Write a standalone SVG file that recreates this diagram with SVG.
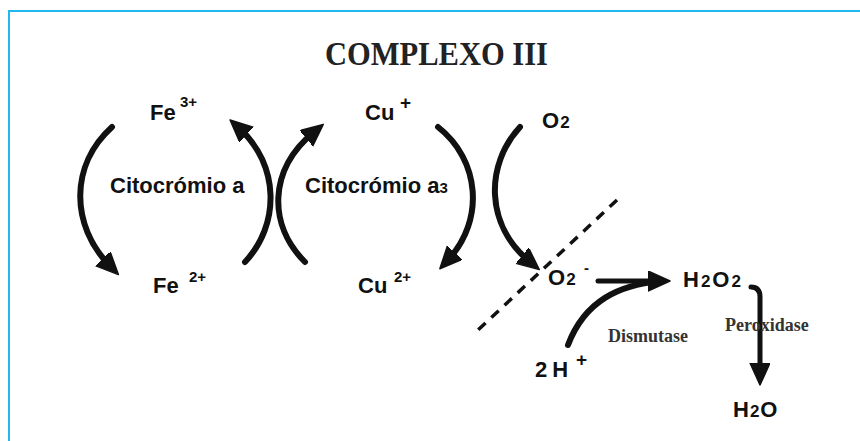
<svg xmlns="http://www.w3.org/2000/svg" width="860" height="441" viewBox="0 0 860 441">
<defs>
<marker id="ah" markerUnits="userSpaceOnUse" markerWidth="24" markerHeight="22" refX="10" refY="10" orient="auto" viewBox="0 0 24 22">
<path d="M0,0 L22,10 L0,20 z" fill="#111" stroke="#111" stroke-width="1.5" stroke-linejoin="round"/>
</marker>
</defs>
<style>
.lbl{font-family:"Liberation Sans",Arial,sans-serif;font-weight:bold;font-size:22px;fill:#111}
.sm{font-size:17px}
.sup{font-size:15px}
.enz{font-family:"Liberation Serif","Times New Roman",serif;font-weight:bold;font-size:18px;fill:#333}
.arc{fill:none;stroke:#111;stroke-width:6;stroke-linecap:round}
.ln{fill:none;stroke:#111;stroke-width:5;stroke-linecap:round}
</style>
<rect width="860" height="441" fill="#fff"/>
<path d="M9,441 V11 H860" fill="none" stroke="#22b8ee" stroke-width="2"/>
<text x="436.5" y="65" text-anchor="middle" font-family="'Liberation Serif','Times New Roman',serif" font-weight="bold" font-size="33" fill="#222" textLength="223" lengthAdjust="spacingAndGlyphs">COMPLEXO III</text>
<g id="connectors">
<path class="arc" d="M112,127 C70,165 70,225 110,266" marker-end="url(#ah)"/>
<path class="arc" d="M245,262 C280,225 280,165 239,128" marker-end="url(#ah)"/>
<path class="arc" d="M305,262 C268,225 268,170 314,132" marker-end="url(#ah)"/>
<path class="arc" d="M438,127 C480,160 485,220 448,260" marker-end="url(#ah)"/>
<path class="arc" d="M520,127 C485,165 485,225 530,262" marker-end="url(#ah)"/>
<path d="M617,200 L478,330" fill="none" stroke="#111" stroke-width="3.5" stroke-dasharray="10 8"/>
<path class="ln" d="M598,281 L658,281" marker-end="url(#ah)"/>
<path class="arc" d="M568,345 C585,300 620,285 660,281"/>
<path class="ln" d="M751,287 Q760,287 760,297 L760,373" marker-end="url(#ah)"/>
</g>
<g id="fe3"><text class="lbl" x="150" y="120">Fe<tspan class="sup" x="180" y="107">3+</tspan></text></g>
<g id="fe2"><text class="lbl" x="153" y="293">Fe<tspan class="sup" x="189" y="282">2+</tspan></text></g>
<g id="cita"><text class="lbl" x="110" y="193" font-size="21">Citocrómio a</text></g>
<g id="cita3"><text class="lbl" x="305" y="193" font-size="21">Citocrómio a<tspan font-size="15">3</tspan></text></g>
<g id="cu1"><text class="lbl" x="365" y="120">Cu<tspan x="400" y="109" font-size="19">+</tspan></text></g>
<g id="cu2"><text class="lbl" x="358" y="293">Cu<tspan class="sup" x="394" y="282">2+</tspan></text></g>
<g id="o2"><text class="lbl" x="542" y="128">O<tspan class="sm" dx="1">2</tspan></text></g>
<g id="o2m"><text class="lbl" x="548" y="285">O<tspan class="sm" dx="1">2</tspan><tspan class="sup" x="584" y="273">-</tspan></text></g>
<g id="h2o2"><text class="lbl" x="683" y="287">H<tspan class="sm" dx="2">2</tspan><tspan dx="2">O</tspan><tspan class="sm" dx="2">2</tspan></text></g>
<g id="h2o"><text class="lbl" x="733" y="417">H<tspan class="sm" dx="1">2</tspan><tspan dx="1">O</tspan></text></g>
<g id="h2"><text class="lbl" x="535" y="377">2<tspan dx="5">H</tspan><tspan x="576" y="366" font-size="19">+</tspan></text></g>
<g id="dism"><text class="enz" x="608" y="342">Dismutase</text></g>
<g id="perox"><text class="enz" x="725" y="331">Peroxidase</text></g>
</svg>
